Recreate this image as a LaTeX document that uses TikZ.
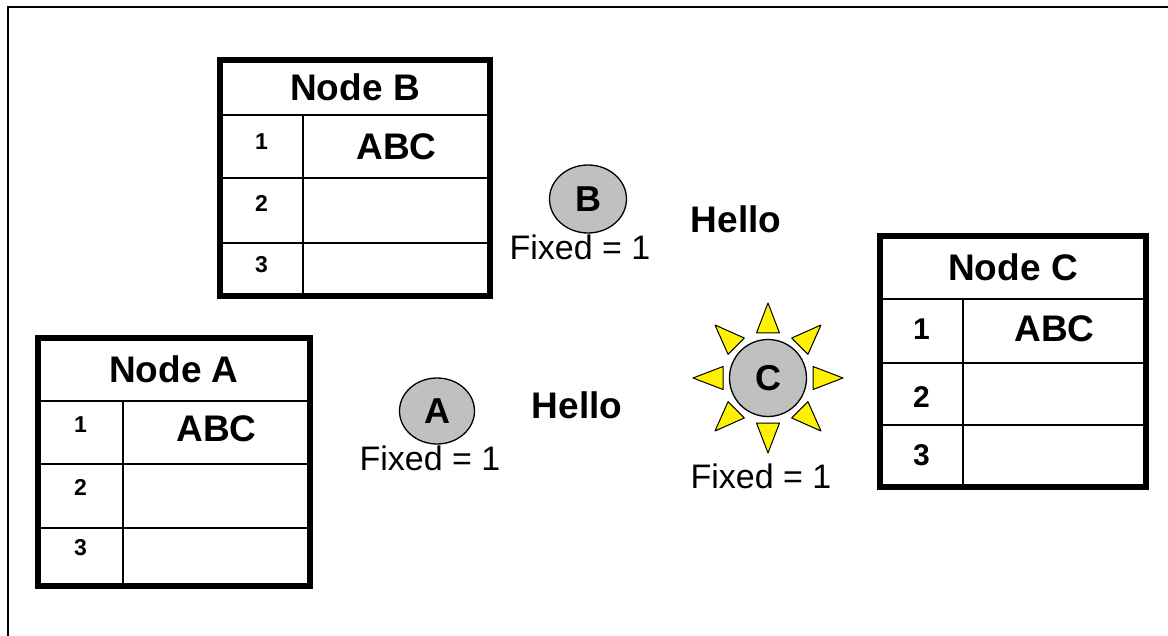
\documentclass[tikz,border=0pt]{standalone}
\usepackage{fontspec}
\setmainfont{Liberation Sans}
\usetikzlibrary{shapes.geometric}

\definecolor{ballgray}{HTML}{C0C0C0}

\begin{document}
\begin{tikzpicture}[x=1pt,y=-1pt,
    cell/.style={draw, line width=2.5pt, anchor=north west, inner sep=0pt, outer sep=0pt},
    head/.style={cell, font=\fontsize{37}{42}\selectfont\bfseries},
    num/.style={cell, font=\fontsize{23}{26}\selectfont\bfseries},
    bignum/.style={num, font=\fontsize{30}{34}\selectfont\bfseries},
    val/.style={cell, font=\fontsize{37}{42}\selectfont\bfseries},
    outer/.style={line width=5.5pt},
    ball/.style={ellipse, draw, line width=1.3pt, fill=ballgray, inner sep=0pt, font=\fontsize{36}{40}\selectfont\bfseries},
    ray/.style={draw, fill=yellow, line width=1pt, line join=round},
    fixed/.style={anchor=base, font=\fontsize{34}{40}\selectfont},
    hello/.style={anchor=base, font=\fontsize{37}{42}\selectfont\bfseries}]
    \useasboundingbox (0,0) rectangle (1168,636);
    \draw[line width=1.5pt] (8,650) |- (1180,7);

    % table of node A
    \node[head, minimum width=272pt, minimum height=63pt] (hA) at (38,338) {Node A};
    \node[num, minimum width=85pt, text height=31pt, text depth=32pt] (a1) at (hA.south west) {1};
    \node[val, minimum width=187pt, text height=41pt, text depth=22pt] (a1v) at (a1.north east) {ABC};
    \node[num, minimum width=85pt, text height=31pt, text depth=33pt] (a2) at (a1.south west) {2};
    \node[val, minimum width=187pt, text height=31pt, text depth=33pt] (a2v) at (a2.north east) {};
    \node[num, minimum width=85pt, text height=27pt, text depth=31pt] (a3) at (a2.south west) {3};
    \node[val, minimum width=187pt, text height=27pt, text depth=31pt] (a3v) at (a3.north east) {};
    \draw[outer] (hA.north west) rectangle (a3v.south east);

    % table of node B
    \node[head, minimum width=270pt, minimum height=55pt] (hB) at (220,60) {Node B};
    \node[num, minimum width=83pt, text height=35pt, text depth=28pt] (b1) at (hB.south west) {1};
    \node[val, minimum width=187pt, text height=45pt, text depth=18pt] (b1v) at (b1.north east) {ABC};
    \node[num, minimum width=83pt, text height=34pt, text depth=31pt] (b2) at (b1.south west) {2};
    \node[val, minimum width=187pt, text height=34pt, text depth=31pt] (b2v) at (b2.north east) {};
    \node[num, minimum width=83pt, text height=30pt, text depth=23pt] (b3) at (b2.south west) {3};
    \node[val, minimum width=187pt, text height=30pt, text depth=23pt] (b3v) at (b3.north east) {};
    \draw[outer] (hB.north west) rectangle (b3v.south east);

    % table of node C
    \node[head, minimum width=266pt, minimum height=63pt] (hC) at (880,236) {Node C};
    \node[bignum, minimum width=83pt, text height=41pt, text depth=23pt] (c1) at (hC.south west) {1};
    \node[val, minimum width=183pt, text height=43pt, text depth=21pt] (c1v) at (c1.north east) {ABC};
    \node[bignum, minimum width=83pt, text height=44pt, text depth=18pt] (c2) at (c1.south west) {2};
    \node[val, minimum width=183pt, text height=44pt, text depth=18pt] (c2v) at (c2.north east) {};
    \node[bignum, minimum width=83pt, text height=40pt, text depth=22pt] (c3) at (c2.south west) {3};
    \node[val, minimum width=183pt, text height=40pt, text depth=22pt] (c3v) at (c3.north east) {};
    \draw[outer] (hC.north west) rectangle (c3v.south east);

    % the three balls
    \node[ball, minimum width=75pt, minimum height=66pt] (A) at (437,411) {A};
    \node[ball, minimum width=77pt, minimum height=68pt] (B) at (588,199) {B};
    \node[ball, minimum size=77pt] (C) at (768,378) {C};
    \foreach \a in {0,45,...,315}
        \draw[ray, shift={(C)}, rotate=\a] (45,-11.5) -- (75,0) -- (45,11.5) -- cycle;

    \node[fixed] (fA) at (430,470) {Fixed = 1};
    \node[fixed] (fB) at (580,260) {Fixed = 1};
    \node[fixed] (fC) at (761,488) {Fixed = 1};

    \node[hello] (helloA) at (577,418) {Hello};
    \node[hello] (helloB) at (736,233) {Hello};
\end{tikzpicture}
\end{document}
